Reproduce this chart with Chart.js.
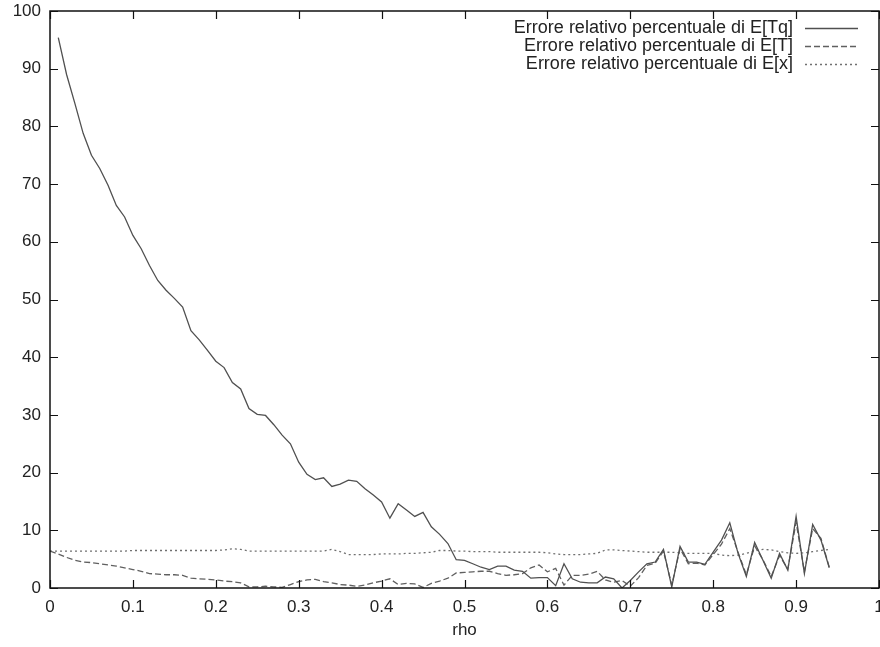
<!DOCTYPE html>
<html>
<head>
<meta charset="utf-8">
<script src="https://cdn.jsdelivr.net/npm/chart.js@4/dist/chart.umd.min.js"></script>
<style>
html,body{margin:0;padding:0;background:#fff;overflow:hidden;}
canvas{display:block;}
</style>
</head>
<body>
<canvas id="c" width="880" height="647"></canvas>
<script>
// ---- data ----
const rho = [0.00,0.01,0.02,0.03,0.04,0.05,0.06,0.07,0.08,0.09,0.10,0.11,0.12,0.13,0.14,0.15,0.16,0.17,0.18,0.19,
0.20,0.21,0.22,0.23,0.24,0.25,0.26,0.27,0.28,0.29,0.30,0.31,0.32,0.33,0.34,0.35,0.36,0.37,0.38,0.39,
0.40,0.41,0.42,0.43,0.44,0.45,0.46,0.47,0.48,0.49,0.50,0.51,0.52,0.53,0.54,0.55,0.56,0.57,0.58,0.59,
0.60,0.61,0.62,0.63,0.64,0.65,0.66,0.67,0.68,0.69,0.70,0.71,0.72,0.73,0.74,0.75,0.76,0.77,0.78,0.79,
0.80,0.81,0.82,0.83,0.84,0.85,0.86,0.87,0.88,0.89,0.90,0.91,0.92,0.93,0.94];

const errTq = [null,95.4,89.0,84.0,78.8,75.0,72.7,69.8,66.3,64.3,61.1,58.8,55.9,53.3,51.6,50.2,48.7,44.6,43.0,41.2,
39.3,38.2,35.6,34.5,31.1,30.1,29.9,28.3,26.5,25.0,21.8,19.7,18.8,19.1,17.6,18.0,18.7,18.5,17.2,16.1,
14.9,12.1,14.6,13.5,12.4,13.1,10.6,9.3,7.7,4.9,4.8,4.2,3.6,3.2,3.8,3.8,3.1,2.9,1.7,1.8,
1.8,0.4,4.2,1.6,1.0,0.9,0.9,1.9,1.6,0.0,1.3,2.8,4.2,4.5,6.7,0.2,7.2,4.5,4.5,4.1,
6.2,8.3,11.3,6.0,2.0,7.9,4.8,1.7,6.0,3.1,12.4,2.5,11.0,8.3,3.5];

const errT = [6.4,5.9,5.3,4.8,4.5,4.4,4.2,4.0,3.8,3.5,3.2,2.9,2.5,2.4,2.3,2.3,2.2,1.7,1.6,1.5,
1.4,1.2,1.1,0.9,0.2,0.2,0.3,0.2,0.1,0.6,1.1,1.4,1.5,1.1,0.9,0.6,0.5,0.3,0.5,0.9,
1.2,1.6,0.6,0.8,0.7,0.1,0.8,1.2,1.7,2.6,2.7,2.8,2.9,2.9,2.5,2.2,2.3,2.5,3.5,4.0,
2.8,3.4,0.5,2.2,2.2,2.4,2.9,1.4,1.0,1.3,0.3,1.8,3.9,4.3,6.4,0.5,6.8,4.2,4.3,4.0,
5.8,7.6,10.3,6.2,2.3,7.3,4.9,2.0,5.6,3.3,11.4,2.8,10.3,8.6,3.6];

const errX = [6.4,6.4,6.4,6.4,6.4,6.4,6.4,6.4,6.4,6.4,6.5,6.5,6.5,6.5,6.5,6.5,6.5,6.5,6.5,6.5,
6.5,6.6,6.8,6.7,6.4,6.4,6.4,6.4,6.4,6.4,6.4,6.4,6.4,6.4,6.7,6.3,5.8,5.8,5.8,5.8,
5.9,5.9,5.9,6.0,6.0,6.1,6.2,6.5,6.5,6.4,6.4,6.3,6.3,6.3,6.2,6.2,6.2,6.2,6.2,6.2,
6.1,5.9,5.8,5.8,5.8,5.9,6.0,6.6,6.6,6.5,6.4,6.3,6.2,6.2,6.2,6.2,6.1,6.0,6.0,6.0,
6.0,5.7,5.6,5.7,6.0,6.4,6.7,6.6,6.3,6.1,6.0,6.1,6.3,6.5,6.7];

const seriesLabels = ['Errore relativo percentuale di E[Tq]','Errore relativo percentuale di E[T]','Errore relativo percentuale di E[x]'];
const xTickLabels = ['0','0.1','0.2','0.3','0.4','0.5','0.6','0.7','0.8','0.9','1'];
const yTickLabels = ['0','10','20','30','40','50','60','70','80','90','100'];
const xTitle = 'rho';

const FONT = '"Liberation Sans", Arial, Helvetica, sans-serif';
const pts = arr => rho.map((x,i) => ({x:x, y:arr[i]}));

// frame, inward ticks and gnuplot-style legend
const framePlugin = {
  id:'frame',
  afterDraw(chart){
    const ctx = chart.ctx, a = chart.chartArea;
    const xs = chart.scales.x, ys = chart.scales.y;
    ctx.save();
    ctx.strokeStyle = '#111';
    ctx.lineWidth = 1.5;
    ctx.strokeRect(a.left, a.top, a.right - a.left, a.bottom - a.top);
    ctx.lineWidth = 1.2;
    const L = 8;
    ctx.beginPath();
    xs.ticks.forEach(t => {
      const px = Math.round(xs.getPixelForValue(t.value)) + 0.5;
      ctx.moveTo(px, a.bottom); ctx.lineTo(px, a.bottom - L);
      ctx.moveTo(px, a.top); ctx.lineTo(px, a.top + L);
    });
    ys.ticks.forEach(t => {
      const py = Math.round(ys.getPixelForValue(t.value)) + 0.5;
      ctx.moveTo(a.left, py); ctx.lineTo(a.left + L, py);
      ctx.moveTo(a.right, py); ctx.lineTo(a.right - L, py);
    });
    ctx.stroke();
    // legend
    ctx.font = '18px ' + FONT;
    ctx.textAlign = 'right';
    ctx.textBaseline = 'middle';
    chart.data.datasets.forEach((ds, i) => {
      const y = a.top + 17 + i * 18;
      ctx.fillStyle = '#222';
      ctx.fillText(ds.label, a.right - 86, y);
      ctx.strokeStyle = ds.borderColor;
      ctx.lineWidth = ds.borderWidth;
      ctx.setLineDash(ds.borderDash || []);
      ctx.beginPath();
      ctx.moveTo(a.right - 74, y + 0.5);
      ctx.lineTo(a.right - 21, y + 0.5);
      ctx.stroke();
      ctx.setLineDash([]);
    });
    ctx.restore();
  }
};

new Chart(document.getElementById('c'), {
  type:'line',
  data:{
    datasets:[
      {label:seriesLabels[0], data:pts(errTq), borderColor:'#505050', borderWidth:1.3, borderDash:[], pointRadius:0, tension:0, fill:false},
      {label:seriesLabels[1], data:pts(errT), borderColor:'#606060', borderWidth:1.3, borderDash:[6,3], pointRadius:0, tension:0, fill:false},
      {label:seriesLabels[2], data:pts(errX), borderColor:'#707070', borderWidth:1.3, borderDash:[2,3], pointRadius:0, tension:0, fill:false}
    ]
  },
  plugins:[framePlugin],
  options:{
    responsive:false,
    animation:false,
    events:[],
    layout:{padding:{top:11, right:1, left:0, bottom:0}},
    plugins:{legend:{display:false}, tooltip:{enabled:false}},
    scales:{
      x:{
        type:'linear', min:0, max:1,
        grid:{display:false, drawTicks:false},
        border:{display:false},
        ticks:{stepSize:0.1, padding:9, color:'#222', font:{family:FONT, size:17},
               maxRotation:0, autoSkip:false,
               callback:(v,i) => xTickLabels[i]},
        title:{display:true, text:xTitle, color:'#222', font:{family:FONT, size:17}, padding:{top:4,bottom:6}},
        afterFit:s => { s.paddingLeft = 0; s.paddingRight = 0; s.height = 59; }
      },
      y:{
        type:'linear', min:0, max:100,
        grid:{display:false, drawTicks:false},
        border:{display:false},
        ticks:{stepSize:10, padding:9, color:'#222', font:{family:FONT, size:17},
               callback:(v,i) => yTickLabels[i]},
        afterFit:s => { s.paddingTop = 0; s.paddingBottom = 0; s.width = 50; }
      }
    }
  }
});
</script>
</body>
</html>
